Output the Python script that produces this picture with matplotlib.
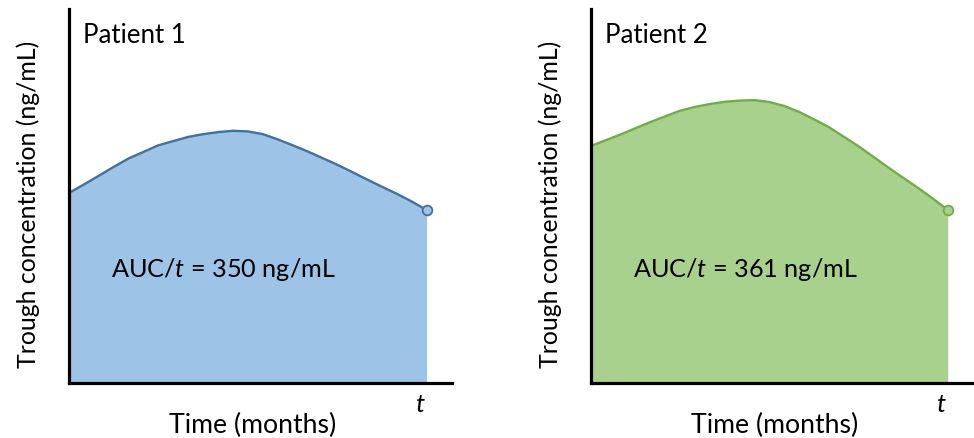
import matplotlib.pyplot as plt
import numpy as np

plt.rcParams['font.family'] = ['Lato', 'DejaVu Sans']
plt.rcParams['mathtext.fontset'] = 'custom'
plt.rcParams['mathtext.rm'] = 'Lato'
plt.rcParams['mathtext.it'] = 'Lato:italic'

# half-month samples over 0..12 months (arbitrary units)
months = [0, 0.5, 1, 1.5, 2, 2.5, 3, 3.5, 4, 4.5, 5, 5.5, 6,
          6.5, 7, 7.5, 8, 8.5, 9, 9.5, 10, 10.5, 11, 11.5, 12]
conc_p1 = [190, 198.5, 207.2, 216.1, 224.5, 231.1, 237.7, 241.9, 246.1, 248.8, 250.9, 252.2, 251.6,
           248.9, 243.7, 237.8, 231.7, 225, 218.3, 211, 203.5, 196.3, 189.2, 181.5, 173]
conc_p2 = [237, 242.8, 248.6, 254.8, 261, 266.7, 272.3, 276.1, 279, 281.2, 282.4, 282.9, 281,
           277, 271.1, 263.7, 255.9, 246.3, 236.7, 226.2, 215.5, 205.2, 195.1, 184.4, 173]
patients = ['Patient 1', 'Patient 2']
auc = [350, 361]
fill_colors = ['#9dc3e6', '#a9d18e']
line_colors = ['#41719c', '#70ad47']

fig = plt.figure(figsize=(9.74, 4.39), dpi=100)
ax1 = fig.add_axes([0.0708, 0.1253, 0.3932, 0.8519])
ax2 = fig.add_axes([0.6068, 0.1253, 0.3922, 0.8519])

for ax, conc, name, a, fc, lc in zip([ax1, ax2], [conc_p1, conc_p2], patients, auc, fill_colors, line_colors):
    ax.fill_between(months, conc, 0, color=fc, lw=0)
    ax.plot(months, conc, color=lc, lw=1.7, solid_capstyle='round', solid_joinstyle='round')
    ax.plot(months[-1], conc[-1], 'o', ms=7, mfc=fc, mec=lc, mew=1.3)
    ax.set_xlim(0, 12.85)
    ax.set_ylim(0, 374)
    ax.set_xticks([])
    ax.set_yticks([])
    for s in ['top', 'right']:
        ax.spines[s].set_visible(False)
    for s in ['left', 'bottom']:
        ax.spines[s].set_linewidth(2.3)
    ax.text(0.036, 0.933, name, transform=ax.transAxes, fontsize=18.6, va='center', ha='left')
    ax.text(0.11, 0.305, 'AUC/$t$ = %d ng/mL' % a, transform=ax.transAxes,
            fontsize=18.2, va='center', ha='left')
    ax.text(0.916, -0.056, 't', style='italic', transform=ax.transAxes,
            fontsize=18.5, va='center', ha='center')
    ax.text(0.48, -0.11, 'Time (months)', transform=ax.transAxes,
            fontsize=19.2, va='center', ha='center')
    ax.text(-0.107, 0.479, 'Trough concentration (ng/mL)', transform=ax.transAxes,
            fontsize=17.9, va='center', ha='center', rotation=90)

fig.savefig('out.png', dpi=100)
